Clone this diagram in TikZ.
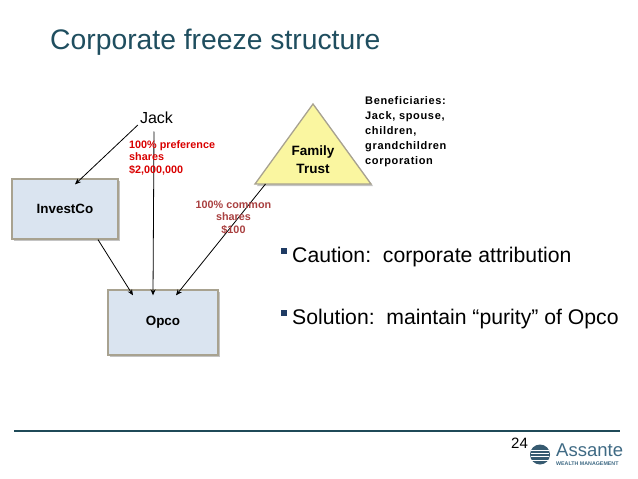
\documentclass[tikz,border=0pt]{standalone}
\usepackage{fontspec}
\setmainfont{Liberation Sans}
\newfontfamily\widefont[LetterSpace=6]{Liberation Sans}
\definecolor{titleteal}{HTML}{1F4E5F}
\definecolor{boxfill}{HTML}{DAE4F0}
\definecolor{boxedge}{HTML}{A8A290}
\definecolor{trustfill}{HTML}{FAF6A0}
\definecolor{shadowgrey}{HTML}{C4C4C4}
\definecolor{rulecolor}{HTML}{1F4A58}
\definecolor{bulletblue}{HTML}{1F3B63}
\definecolor{logoblue}{HTML}{3F6A84}
\tikzset{
	box/.style={draw=boxedge,line width=1.3pt,fill=boxfill,font=\bfseries\fontsize{13.4}{16}\selectfont,text=black},
	link/.style={draw=black,line width=0.8pt,-{Stealth[length=6pt,width=5pt]}},
	redlabel/.style={font=\bfseries\fontsize{10.8}{12.6}\selectfont,inner sep=0pt,align=left,anchor=north west},
	bullettext/.style={font=\fontsize{21.2}{25}\selectfont,inner sep=0pt,anchor=west},
	bulletmark/.style={fill=bulletblue,minimum size=6pt,inner sep=0pt},
}
\usetikzlibrary{arrows.meta}
\begin{document}
\begin{tikzpicture}[x=1pt,y=-1pt]
		\useasboundingbox (0,0) rectangle (638,479);

		\node[font=\fontsize{28.3}{32}\selectfont,text=titleteal,anchor=west,inner sep=0pt] (title) at (50,42) {Corporate freeze structure};

		% boxes, shadow first
		\fill[shadowgrey] (14,181) rectangle (120,241);
		\fill[shadowgrey] (110,292) rectangle (220,357);
		\node[box,minimum width=106pt,minimum height=60pt] (investco) at (65,209) {InvestCo};
		\node[box,minimum width=110pt,minimum height=65pt] (opco) at (163,322.5) {Opco};

		% trust
		\fill[shadowgrey] (315,106) -- (373,186) -- (257,186) -- cycle;
		\draw[draw=boxedge,line width=1.3pt,fill=trustfill] (313,104) -- (371,184) -- (255,184) -- cycle;
		\node[font=\bfseries\fontsize{13.5}{18}\selectfont,align=center,inner sep=0pt] (trust) at (313,159.5) {Family\\Trust};
		\coordinate (trustfoot) at (265.5,184);

		\node[font=\fontsize{16}{18}\selectfont,inner sep=1pt] (jack) at (156.5,118) {Jack};

		\draw[link] (jack.west) ++(-1,7) coordinate (jackleft) -- ([xshift=10pt,yshift=-6pt]investco.north);
		\draw[link] (154,118) ++(0,13.5) coordinate (jackdown) -- ([xshift=-10pt,yshift=-6pt]opco.north);
		\draw[link] ([xshift=33pt]investco.south) -- ([xshift=-30pt,yshift=-6pt]opco.north);
		\draw[link] (trustfoot) -- ([xshift=13pt,yshift=-6pt]opco.north);

		\node[redlabel,text=red!85!black] (preference) at (129,140) {100\% preference\\shares\\\$2,000,000};
		\node[redlabel,text=red!55!black!75,align=center,anchor=north] (common) at (233.5,200.5) {100\% common\\shares\\\$100};
		\node[redlabel,text=black,font=\widefont\bfseries\fontsize{11}{15}\selectfont] (beneficiaries) at (365,96) {Beneficiaries:\\Jack, spouse,\\children,\\grandchildren\\corporation};

		% bullets
		\foreach \name/\ypos/\txt in {caution/257/Caution:\ \ corporate attribution,solution/319/Solution:\ \ maintain “purity” of Opco} {
				\node[bulletmark] (\name mark) at (284,{\ypos-6}) {};
				\node[bullettext] (\name) at (292,\ypos) {\txt};
			}

		\draw[rulecolor,line width=1.3pt] (14,431) -- (620,431);
		\node[font=\fontsize{15}{17}\selectfont,inner sep=0pt] (page) at (519.5,443) {24};

		% logo
		\fill[logoblue!85!black] (540,454.5) circle (10);
		\foreach \i in {1,...,4} {
				\draw[white,line width=0.4pt] (531,{447+\i*3.2}) -- (549,{447+\i*3.2});
			}
		\node[font=\fontsize{18.5}{19}\selectfont,text=logoblue,anchor=west,inner sep=0pt] (assante) at (556,450.5) {Assante};
		\node[font=\bfseries\fontsize{5.3}{6}\selectfont,text=logoblue,anchor=west,inner sep=0pt] (wealth) at (556,464) {WEALTH MANAGEMENT};
	\end{tikzpicture}
\end{document}
